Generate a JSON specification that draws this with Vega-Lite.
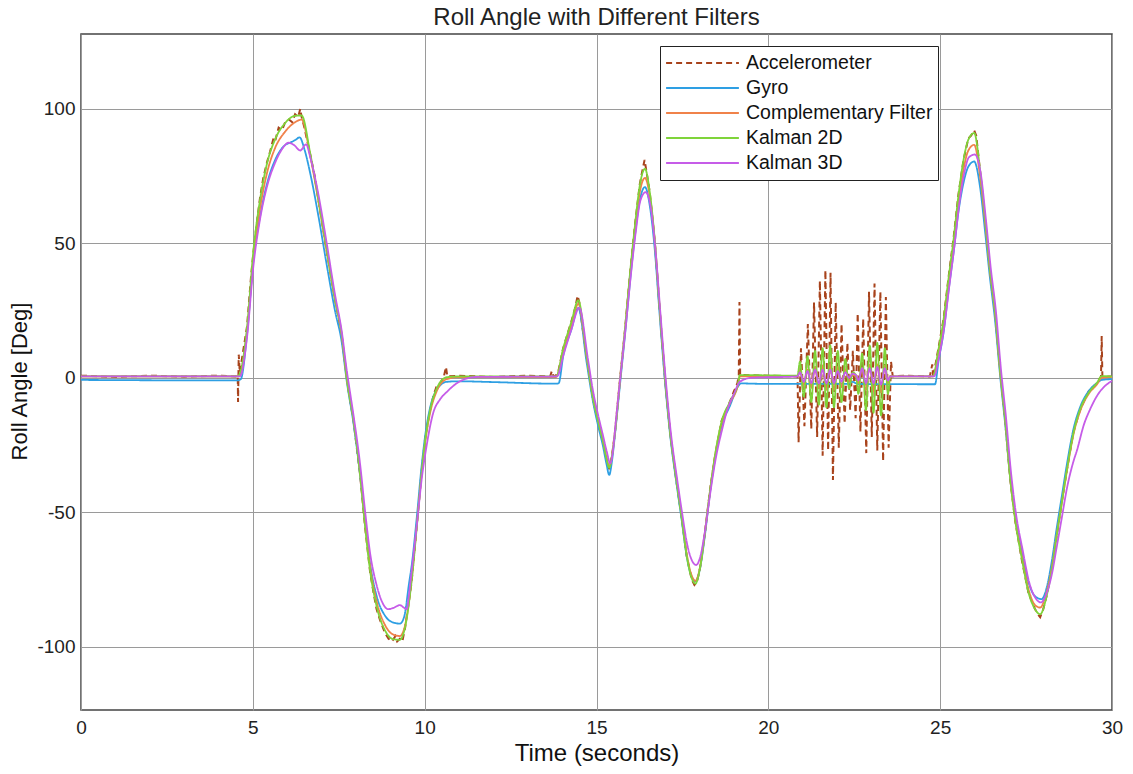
{
"$schema":"https://vega.github.io/schema/vega-lite/v6.json",
"width":1031,"height":676,
"autosize":{"type":"none"},
"padding":{"left":81,"top":34,"right":21,"bottom":64},
"background":"white",
"title":{"text":"Roll Angle with Different Filters","fontSize":24,"font":"Liberation Sans","fontWeight":"normal","color":"#222","offset":4},
"config":{"view":{"stroke":"#444","strokeWidth":1.5},"font":"Liberation Sans"},
"datasets":{
"acc":[
{"t":0,"v":0.8},{"t":1,"v":0.3},{"t":2,"v":0.8},{"t":3,"v":0.4},{"t":4,"v":0.8},{"t":4.5,"v":0.5},{"t":4.56,"v":1},{"t":4.57,"v":-9},{"t":4.59,"v":8.6},{"t":4.62,"v":2},{"t":4.83,"v":19},{"t":4.95,"v":38},{"t":5.02,"v":47},{"t":5.12,"v":58},{"t":5.21,"v":67},{"t":5.3,"v":74},{"t":5.41,"v":80},{"t":5.5,"v":84},{"t":5.6,"v":89},{"t":5.65,"v":88},{"t":5.75,"v":93},{"t":5.85,"v":92},{"t":5.94,"v":95},{"t":6.05,"v":96},{"t":6.15,"v":95},{"t":6.23,"v":98},{"t":6.32,"v":97},{"t":6.38,"v":100},{"t":6.42,"v":97},{"t":6.5,"v":93},{"t":6.67,"v":83},{"t":6.8,"v":75},{"t":6.91,"v":66},{"t":7.15,"v":47},{"t":7.39,"v":29},{"t":7.5,"v":22},{"t":7.59,"v":15},{"t":7.65,"v":9},{"t":7.73,"v":1},{"t":7.8,"v":-6},{"t":7.93,"v":-16},{"t":8.12,"v":-36},{"t":8.27,"v":-56},{"t":8.41,"v":-72},{"t":8.5,"v":-79},{"t":8.6,"v":-86},{"t":8.7,"v":-90},{"t":8.85,"v":-95},{"t":8.95,"v":-97},{"t":9.05,"v":-98},{"t":9.15,"v":-96},{"t":9.2,"v":-98},{"t":9.28,"v":-97},{"t":9.35,"v":-98},{"t":9.43,"v":-93},{"t":9.62,"v":-76},{"t":9.77,"v":-55},{"t":9.91,"v":-35},{"t":10.01,"v":-23},{"t":10.1,"v":-16},{"t":10.16,"v":-12},{"t":10.25,"v":-7},{"t":10.35,"v":-3},{"t":10.45,"v":-2},{"t":10.55,"v":0},{"t":10.62,"v":4},{"t":10.66,"v":0.5},{"t":11,"v":0.8},{"t":12,"v":0.3},{"t":13,"v":0.8},{"t":13.65,"v":0.5},{"t":13.7,"v":2.5},{"t":13.75,"v":0.5},{"t":13.83,"v":1},{"t":13.9,"v":3},{"t":14.03,"v":11},{"t":14.15,"v":16},{"t":14.27,"v":21},{"t":14.38,"v":26},{"t":14.45,"v":30.5},{"t":14.5,"v":28},{"t":14.6,"v":18},{"t":14.71,"v":8},{"t":14.9,"v":-8},{"t":15.05,"v":-17},{"t":15.19,"v":-24},{"t":15.29,"v":-30},{"t":15.37,"v":-34},{"t":15.45,"v":-29},{"t":15.53,"v":-21},{"t":15.68,"v":-1},{"t":15.83,"v":18},{"t":15.97,"v":38},{"t":16.12,"v":57},{"t":16.26,"v":72},{"t":16.35,"v":78},{"t":16.4,"v":81},{"t":16.45,"v":77},{"t":16.55,"v":69},{"t":16.7,"v":50},{"t":16.84,"v":25},{"t":16.99,"v":0},{"t":17.14,"v":-20},{"t":17.33,"v":-39},{"t":17.48,"v":-52},{"t":17.62,"v":-66},{"t":17.77,"v":-75},{"t":17.85,"v":-77},{"t":17.92,"v":-76},{"t":18.01,"v":-71},{"t":18.16,"v":-57},{"t":18.3,"v":-42},{"t":18.45,"v":-29},{"t":18.64,"v":-16},{"t":18.88,"v":-9},{"t":19.0,"v":-5},{"t":19.1,"v":-2},{"t":19.14,"v":1},{"t":19.16,"v":28.2},{"t":19.18,"v":1},{"t":19.3,"v":1},{"t":20,"v":0.8},{"t":20.85,"v":0.5},
{"t":20.88,"v":-24},{"t":20.95,"v":11},{"t":21.05,"v":-18},{"t":21.15,"v":20},{"t":21.25,"v":-19},{"t":21.33,"v":28},{"t":21.42,"v":-22},{"t":21.5,"v":36},{"t":21.58,"v":-29},{"t":21.66,"v":40},{"t":21.74,"v":-27},{"t":21.81,"v":39},{"t":21.88,"v":-38},{"t":21.96,"v":28},{"t":22.05,"v":-26},{"t":22.13,"v":20},{"t":22.22,"v":-17},{"t":22.3,"v":13},{"t":22.38,"v":-12},{"t":22.46,"v":10},{"t":22.54,"v":-15},{"t":22.6,"v":24},{"t":22.68,"v":-20},{"t":22.76,"v":22},{"t":22.85,"v":-28},{"t":22.93,"v":32},{"t":23.01,"v":-22},{"t":23.09,"v":35},{"t":23.17,"v":-27},{"t":23.26,"v":32},{"t":23.34,"v":-31},{"t":23.42,"v":30},{"t":23.5,"v":-26},{"t":23.57,"v":6},{"t":23.62,"v":0.5},
{"t":24,"v":0.8},{"t":24.7,"v":0.5},{"t":24.77,"v":5},{"t":24.8,"v":0},{"t":24.85,"v":4},{"t":24.95,"v":11},{"t":25.1,"v":22},{"t":25.24,"v":37},{"t":25.39,"v":52},{"t":25.53,"v":68},{"t":25.68,"v":81},{"t":25.82,"v":89},{"t":25.9,"v":90},{"t":25.99,"v":92},{"t":26.05,"v":90},{"t":26.16,"v":77},{"t":26.31,"v":58},{"t":26.45,"v":40},{"t":26.6,"v":24},{"t":26.75,"v":2},{"t":26.89,"v":-16},{"t":27.04,"v":-38},{"t":27.18,"v":-53},{"t":27.38,"v":-68},{"t":27.57,"v":-80},{"t":27.76,"v":-86},{"t":27.85,"v":-88},{"t":27.91,"v":-89},{"t":28.0,"v":-86},{"t":28.1,"v":-81},{"t":28.25,"v":-71},{"t":28.39,"v":-59},{"t":28.54,"v":-46},{"t":28.69,"v":-34},{"t":28.88,"v":-20},{"t":29.07,"v":-12},{"t":29.32,"v":-5},{"t":29.56,"v":-2},{"t":29.68,"v":0.5},{"t":29.7,"v":15.5},{"t":29.72,"v":0.5},{"t":30,"v":0.5}
],
"gyro":[
{"t":0,"v":-0.8},{"t":4.55,"v":-1},{"t":4.65,"v":-0.5},{"t":4.83,"v":16},{"t":5.02,"v":44},{"t":5.21,"v":60},{"t":5.41,"v":72},{"t":5.65,"v":81},{"t":5.94,"v":86.5},{"t":6.1,"v":87.5},{"t":6.25,"v":88.5},{"t":6.36,"v":89.4},{"t":6.5,"v":85},{"t":6.67,"v":76},{"t":6.91,"v":60},{"t":7.15,"v":42},{"t":7.39,"v":25},{"t":7.59,"v":13},{"t":7.73,"v":-1},{"t":7.93,"v":-17},{"t":8.12,"v":-36},{"t":8.27,"v":-54},{"t":8.41,"v":-69},{"t":8.6,"v":-81},{"t":8.85,"v":-88.5},{"t":9.09,"v":-91},{"t":9.28,"v":-91.4},{"t":9.4,"v":-89},{"t":9.55,"v":-76},{"t":9.62,"v":-70},{"t":9.77,"v":-52},{"t":9.91,"v":-33},{"t":10.01,"v":-22},{"t":10.16,"v":-11},{"t":10.35,"v":-4.5},{"t":10.64,"v":-1.5},{"t":11,"v":-1.3},{"t":12,"v":-1.6},{"t":13.83,"v":-2.2},{"t":13.9,"v":-2},{"t":14.03,"v":8},{"t":14.27,"v":18},{"t":14.47,"v":26},{"t":14.71,"v":6},{"t":14.9,"v":-9},{"t":15.05,"v":-18},{"t":15.19,"v":-25.5},{"t":15.29,"v":-32},{"t":15.37,"v":-36.1},{"t":15.45,"v":-31},{"t":15.53,"v":-22},{"t":15.68,"v":-3},{"t":15.83,"v":16},{"t":15.97,"v":35},{"t":16.12,"v":53},{"t":16.26,"v":66},{"t":16.41,"v":70.9},{"t":16.55,"v":64},{"t":16.7,"v":47},{"t":16.84,"v":23},{"t":16.99,"v":-1},{"t":17.14,"v":-21},{"t":17.33,"v":-39.5},{"t":17.48,"v":-53},{"t":17.62,"v":-66},{"t":17.77,"v":-74},{"t":17.88,"v":-75.7},{"t":18.01,"v":-71},{"t":18.16,"v":-58},{"t":18.3,"v":-43},{"t":18.45,"v":-30},{"t":18.64,"v":-18},{"t":18.88,"v":-10.5},{"t":19.13,"v":-3},{"t":19.2,"v":-2.1},{"t":20,"v":-2.3},{"t":22.3,"v":-2.3},{"t":22.45,"v":-1.5},{"t":22.6,"v":-2.3},{"t":24.85,"v":-2.4},{"t":24.95,"v":6},{"t":25.1,"v":17},{"t":25.24,"v":32},{"t":25.39,"v":46.5},{"t":25.53,"v":61.5},{"t":25.68,"v":72.5},{"t":25.82,"v":78.5},{"t":25.99,"v":80.4},{"t":26.16,"v":71},{"t":26.31,"v":54},{"t":26.45,"v":37},{"t":26.6,"v":21},{"t":26.75,"v":0},{"t":26.89,"v":-17},{"t":27.04,"v":-37},{"t":27.18,"v":-51},{"t":27.38,"v":-65},{"t":27.57,"v":-76},{"t":27.76,"v":-81.2},{"t":27.95,"v":-82.3},{"t":28.1,"v":-78},{"t":28.25,"v":-68},{"t":28.39,"v":-56},{"t":28.54,"v":-44},{"t":28.69,"v":-32},{"t":28.88,"v":-19},{"t":29.07,"v":-11},{"t":29.32,"v":-5},{"t":29.56,"v":-2},{"t":29.7,"v":-0.8},{"t":30,"v":-0.5}
],
"comp":[
{"t":0,"v":0.5},{"t":4.55,"v":0.5},{"t":4.62,"v":1},{"t":4.83,"v":17},{"t":5.02,"v":45},{"t":5.21,"v":63},{"t":5.41,"v":76},{"t":5.65,"v":85.5},{"t":5.94,"v":91.5},{"t":6.23,"v":95},{"t":6.42,"v":96},{"t":6.67,"v":82.5},{"t":6.91,"v":65.5},{"t":7.15,"v":47},{"t":7.39,"v":29},{"t":7.59,"v":15.5},{"t":7.73,"v":0},{"t":7.93,"v":-15.5},{"t":8.12,"v":-35},{"t":8.27,"v":-54},{"t":8.41,"v":-70},{"t":8.6,"v":-83},{"t":8.85,"v":-92},{"t":9.09,"v":-95.5},{"t":9.28,"v":-96},{"t":9.43,"v":-92},{"t":9.62,"v":-75},{"t":9.77,"v":-55},{"t":9.91,"v":-36},{"t":10.01,"v":-24.5},{"t":10.16,"v":-13},{"t":10.35,"v":-5},{"t":10.64,"v":-0.5},{"t":11,"v":0.3},{"t":13.83,"v":0.3},{"t":14.03,"v":10},{"t":14.27,"v":19.5},{"t":14.47,"v":27.5},{"t":14.71,"v":8},{"t":14.9,"v":-7.5},{"t":15.05,"v":-16},{"t":15.19,"v":-23.5},{"t":15.29,"v":-29.5},{"t":15.37,"v":-33},{"t":15.45,"v":-29},{"t":15.53,"v":-21},{"t":15.68,"v":-1.5},{"t":15.83,"v":17.5},{"t":15.97,"v":37},{"t":16.12,"v":55},{"t":16.26,"v":69},{"t":16.41,"v":74.3},{"t":16.55,"v":67.5},{"t":16.7,"v":50},{"t":16.84,"v":25.5},{"t":16.99,"v":1},{"t":17.14,"v":-19.5},{"t":17.33,"v":-38},{"t":17.48,"v":-51.5},{"t":17.62,"v":-65},{"t":17.77,"v":-73.5},{"t":17.88,"v":-75.5},{"t":18.01,"v":-70.5},{"t":18.16,"v":-57},{"t":18.3,"v":-42.5},{"t":18.45,"v":-29},{"t":18.64,"v":-17},{"t":18.88,"v":-9.5},{"t":19.13,"v":-2},{"t":19.17,"v":0.5},{"t":20.85,"v":0.5},
{"t":20.92,"v":2.5},{"t":21.03,"v":-2.5},{"t":21.14,"v":3},{"t":21.25,"v":-3.5},{"t":21.36,"v":4},{"t":21.47,"v":-4},{"t":21.58,"v":4.5},{"t":21.69,"v":-4.5},{"t":21.8,"v":5},{"t":21.91,"v":-4.5},{"t":22.02,"v":4},{"t":22.13,"v":-3.5},{"t":22.24,"v":3},{"t":22.35,"v":-1.5},{"t":22.45,"v":1},{"t":22.55,"v":0.5},{"t":22.62,"v":-2},{"t":22.73,"v":3.5},{"t":22.84,"v":-4.5},{"t":22.95,"v":5},{"t":23.06,"v":-5},{"t":23.17,"v":5},{"t":23.28,"v":-5.5},{"t":23.39,"v":4.5},{"t":23.48,"v":-2},{"t":23.55,"v":0.5},
{"t":24.79,"v":0.5},{"t":24.95,"v":9.5},{"t":25.1,"v":20.5},{"t":25.24,"v":35},{"t":25.39,"v":49.5},{"t":25.53,"v":65},{"t":25.68,"v":77.5},{"t":25.82,"v":84.5},{"t":25.99,"v":86.6},{"t":26.16,"v":75},{"t":26.31,"v":57.5},{"t":26.45,"v":39.5},{"t":26.6,"v":23.5},{"t":26.75,"v":1.5},{"t":26.89,"v":-15.5},{"t":27.04,"v":-37},{"t":27.18,"v":-52},{"t":27.38,"v":-66.5},{"t":27.57,"v":-78.5},{"t":27.76,"v":-84.5},{"t":27.91,"v":-85.4},{"t":28.1,"v":-79.5},{"t":28.25,"v":-70.5},{"t":28.39,"v":-58.5},{"t":28.54,"v":-46.5},{"t":28.69,"v":-34.5},{"t":28.88,"v":-21},{"t":29.07,"v":-12.5},{"t":29.32,"v":-6},{"t":29.56,"v":-2.5},{"t":29.7,"v":0},{"t":30,"v":0.3}
],
"k2":[
{"t":0,"v":0.5},{"t":4.55,"v":0.5},{"t":4.6,"v":1},{"t":4.83,"v":18.5},{"t":5.02,"v":47.7},{"t":5.21,"v":66.2},{"t":5.41,"v":79.5},{"t":5.65,"v":88.7},{"t":5.94,"v":94.7},{"t":6.23,"v":97.4},{"t":6.42,"v":97.5},{"t":6.67,"v":83.4},{"t":6.91,"v":66.2},{"t":7.15,"v":47.7},{"t":7.39,"v":29.1},{"t":7.59,"v":15.9},{"t":7.73,"v":0},{"t":7.93,"v":-15.9},{"t":8.12,"v":-35.8},{"t":8.27,"v":-55.6},{"t":8.41,"v":-71.5},{"t":8.6,"v":-84.8},{"t":8.85,"v":-94},{"t":9.09,"v":-97.2},{"t":9.28,"v":-97.4},{"t":9.43,"v":-92.7},{"t":9.62,"v":-75.5},{"t":9.77,"v":-55.6},{"t":9.91,"v":-35.8},{"t":10.01,"v":-23.8},{"t":10.16,"v":-11.9},{"t":10.35,"v":-4},{"t":10.64,"v":0.2},{"t":11,"v":0.5},{"t":13.83,"v":0.5},{"t":14.03,"v":10.9},{"t":14.27,"v":20.8},{"t":14.47,"v":28.8},{"t":14.71,"v":8.4},{"t":14.9,"v":-7.7},{"t":15.05,"v":-16.3},{"t":15.19,"v":-23.8},{"t":15.29,"v":-30},{"t":15.37,"v":-33.5},{"t":15.45,"v":-29},{"t":15.53,"v":-21.3},{"t":15.68,"v":-1.5},{"t":15.83,"v":18.3},{"t":15.97,"v":38.1},{"t":16.12,"v":56.7},{"t":16.26,"v":71.5},{"t":16.41,"v":77.7},{"t":16.55,"v":69},{"t":16.7,"v":50.5},{"t":16.84,"v":25.7},{"t":16.99,"v":1},{"t":17.14,"v":-20},{"t":17.33,"v":-38.6},{"t":17.48,"v":-52.2},{"t":17.62,"v":-65.8},{"t":17.77,"v":-74.5},{"t":17.88,"v":-76.5},{"t":18.01,"v":-70.8},{"t":18.16,"v":-57.2},{"t":18.3,"v":-42.3},{"t":18.45,"v":-28.7},{"t":18.64,"v":-16.3},{"t":18.88,"v":-8.9},{"t":19.13,"v":-1.5},{"t":19.17,"v":1},{"t":20.85,"v":0.8},
{"t":20.92,"v":6},{"t":21.03,"v":-7},{"t":21.14,"v":8},{"t":21.25,"v":-9},{"t":21.36,"v":10},{"t":21.47,"v":-10},{"t":21.58,"v":11},{"t":21.69,"v":-11},{"t":21.8,"v":12},{"t":21.91,"v":-11},{"t":22.02,"v":10},{"t":22.13,"v":-9},{"t":22.24,"v":7},{"t":22.35,"v":-4},{"t":22.45,"v":2},{"t":22.55,"v":1},{"t":22.62,"v":-6},{"t":22.73,"v":9},{"t":22.84,"v":-12},{"t":22.95,"v":12},{"t":23.06,"v":-13},{"t":23.17,"v":13},{"t":23.28,"v":-14},{"t":23.39,"v":11},{"t":23.48,"v":-6},{"t":23.55,"v":0.5},
{"t":24.79,"v":0.5},{"t":24.95,"v":10.5},{"t":25.1,"v":21.7},{"t":25.24,"v":36.5},{"t":25.39,"v":51.4},{"t":25.53,"v":67.5},{"t":25.68,"v":81},{"t":25.82,"v":88.5},{"t":25.99,"v":91},{"t":26.16,"v":77.4},{"t":26.31,"v":58.8},{"t":26.45,"v":40.2},{"t":26.6,"v":24.1},{"t":26.75,"v":1.9},{"t":26.89,"v":-15.5},{"t":27.04,"v":-37.7},{"t":27.18,"v":-52.6},{"t":27.38,"v":-67.5},{"t":27.57,"v":-79.8},{"t":27.76,"v":-86},{"t":27.91,"v":-87.9},{"t":28.1,"v":-81},{"t":28.25,"v":-71.2},{"t":28.39,"v":-58.8},{"t":28.54,"v":-46.4},{"t":28.69,"v":-34},{"t":28.88,"v":-20.4},{"t":29.07,"v":-11.8},{"t":29.32,"v":-5.6},{"t":29.56,"v":-1.9},{"t":29.7,"v":0.6},{"t":30,"v":0.5}
],
"k3":[
{"t":0,"v":0.5},{"t":4.55,"v":0.5},{"t":4.62,"v":0.5},{"t":4.83,"v":15},{"t":5.02,"v":42},{"t":5.21,"v":59},{"t":5.41,"v":71},{"t":5.65,"v":80},{"t":5.85,"v":85},{"t":6.04,"v":87.4},{"t":6.2,"v":86.5},{"t":6.38,"v":84.5},{"t":6.55,"v":86.8},{"t":6.67,"v":82},{"t":6.91,"v":68},{"t":7.15,"v":50},{"t":7.39,"v":31},{"t":7.59,"v":17},{"t":7.73,"v":3},{"t":7.8,"v":-3},{"t":7.93,"v":-14},{"t":8.12,"v":-32},{"t":8.27,"v":-50},{"t":8.41,"v":-65},{"t":8.6,"v":-77},{"t":8.75,"v":-83},{"t":8.94,"v":-86},{"t":9.1,"v":-85.5},{"t":9.28,"v":-84.5},{"t":9.4,"v":-85.5},{"t":9.48,"v":-86},{"t":9.53,"v":-82},{"t":9.62,"v":-72},{"t":9.77,"v":-55},{"t":9.91,"v":-38},{"t":10.06,"v":-25},{"t":10.25,"v":-13},{"t":10.45,"v":-8},{"t":10.64,"v":-5.3},{"t":11.03,"v":-1.3},{"t":11.5,"v":0.3},{"t":13.85,"v":0.5},{"t":14.05,"v":9},{"t":14.27,"v":18},{"t":14.5,"v":26},{"t":14.75,"v":7},{"t":14.9,"v":-5},{"t":15.05,"v":-14},{"t":15.19,"v":-21.5},{"t":15.3,"v":-27.5},{"t":15.4,"v":-31.8},{"t":15.48,"v":-27},{"t":15.55,"v":-18},{"t":15.7,"v":1},{"t":15.85,"v":19},{"t":15.99,"v":37},{"t":16.14,"v":54},{"t":16.28,"v":66},{"t":16.43,"v":69},{"t":16.57,"v":64},{"t":16.72,"v":47},{"t":16.86,"v":24},{"t":17.01,"v":0},{"t":17.16,"v":-20},{"t":17.35,"v":-38},{"t":17.5,"v":-51},{"t":17.64,"v":-62},{"t":17.78,"v":-68},{"t":17.9,"v":-69.6},{"t":18.03,"v":-66},{"t":18.18,"v":-55},{"t":18.32,"v":-42},{"t":18.47,"v":-30},{"t":18.66,"v":-19},{"t":18.79,"v":-12.6},{"t":19.0,"v":-6},{"t":19.17,"v":-1.5},{"t":19.5,"v":0},{"t":20.85,"v":0.5},
{"t":20.92,"v":2},{"t":21.03,"v":-1.5},{"t":21.14,"v":2.5},{"t":21.25,"v":-2},{"t":21.36,"v":3},{"t":21.47,"v":-2},{"t":21.58,"v":3},{"t":21.69,"v":-2},{"t":21.8,"v":3},{"t":21.91,"v":-2},{"t":22.02,"v":2.5},{"t":22.13,"v":-1.5},{"t":22.24,"v":2},{"t":22.35,"v":0},{"t":22.45,"v":1.5},{"t":22.55,"v":1},{"t":22.62,"v":-1},{"t":22.73,"v":3.5},{"t":22.84,"v":-2},{"t":22.95,"v":3.5},{"t":23.06,"v":-2},{"t":23.17,"v":4},{"t":23.28,"v":-2.5},{"t":23.39,"v":3.5},{"t":23.48,"v":-1},{"t":23.55,"v":0.5},
{"t":24.82,"v":0.5},{"t":24.97,"v":8},{"t":25.12,"v":19},{"t":25.26,"v":33.5},{"t":25.41,"v":48.5},{"t":25.55,"v":64},{"t":25.7,"v":76},{"t":25.84,"v":82},{"t":26.01,"v":83},{"t":26.18,"v":76},{"t":26.33,"v":59},{"t":26.47,"v":41},{"t":26.62,"v":25},{"t":26.77,"v":3},{"t":26.91,"v":-14},{"t":27.06,"v":-35},{"t":27.2,"v":-50},{"t":27.4,"v":-64},{"t":27.59,"v":-76},{"t":27.78,"v":-82},{"t":27.93,"v":-83.5},{"t":28.1,"v":-80},{"t":28.25,"v":-73},{"t":28.39,"v":-63},{"t":28.54,"v":-52},{"t":28.69,"v":-41},{"t":28.88,"v":-31},{"t":28.98,"v":-27},{"t":29.18,"v":-17.5},{"t":29.36,"v":-11.8},{"t":29.6,"v":-6},{"t":29.8,"v":-3},{"t":30,"v":-1.2}
]
},
"encoding":{
"x":{"field":"t","type":"quantitative","scale":{"domain":[0,30],"nice":false,"zero":false},"axis":{"values":[0,5,10,15,20,25,30],"title":"Time (seconds)","grid":true,"gridColor":"#9a9a9a","gridOpacity":1,"domain":false,"ticks":false,"labelFlush":false,"labelFontSize":19,"labelColor":"#222","labelPadding":8,"titleFontSize":24,"titleFontWeight":"normal","titleColor":"#111","titlePadding":4}},
"y":{"field":"v","type":"quantitative","scale":{"domain":[-123.5,127.8],"nice":false,"zero":false},"axis":{"values":[-100,-50,0,50,100],"labelExpr":"datum.value < 0 ? '-' + abs(datum.value) : '' + datum.value","title":"Roll Angle [Deg]","grid":true,"gridColor":"#9a9a9a","gridOpacity":1,"domain":false,"ticks":false,"labelFlush":false,"labelFontSize":19,"labelColor":"#222","labelPadding":6,"titleFontSize":22,"titleFontWeight":"normal","titleColor":"#111","titleX":-50,"titleY":347}},
"color":{"field":"s","type":"nominal","scale":{"domain":["Accelerometer","Gyro","Complementary Filter","Kalman 2D","Kalman 3D"],"range":["#a8431c","#2e9fe3","#f0824a","#7fd43a","#c65ce8"]},"legend":{"title":null,"orient":"none","legendX":579,"legendY":12,"symbolType":"stroke","symbolSize":5300,"symbolStrokeWidth":1.8,"labelFontSize":19.5,"labelColor":"#111","labelOffset":6,"padding":5,"rowPadding":1,"clipHeight":24,"strokeColor":"#222","fillColor":"white","labelLimit":300}},
"strokeDash":{"field":"s","type":"nominal","scale":{"domain":["Accelerometer","Gyro","Complementary Filter","Kalman 2D","Kalman 3D"],"range":[[6,4],[1,0],[1,0],[1,0],[1,0]]},"legend":{"title":null,"orient":"none","legendX":579,"legendY":12,"symbolType":"stroke","symbolSize":5300,"symbolStrokeWidth":1.8,"labelFontSize":19.5,"labelColor":"#111","labelOffset":6,"padding":5,"rowPadding":1,"clipHeight":24,"strokeColor":"#222","fillColor":"white","labelLimit":300}}
},
"layer":[
{"data":{"name":"acc"},"transform":[{"calculate":"'Accelerometer'","as":"s"}],"mark":{"type":"line","strokeWidth":2}},
{"data":{"name":"gyro"},"transform":[{"calculate":"'Gyro'","as":"s"}],"mark":{"type":"line","strokeWidth":1.8,"interpolate":"monotone"}},
{"data":{"name":"comp"},"transform":[{"calculate":"'Complementary Filter'","as":"s"}],"mark":{"type":"line","strokeWidth":1.8,"interpolate":"monotone"}},
{"data":{"name":"k2"},"transform":[{"calculate":"'Kalman 2D'","as":"s"}],"mark":{"type":"line","strokeWidth":1.8,"interpolate":"monotone"}},
{"data":{"name":"k3"},"transform":[{"calculate":"'Kalman 3D'","as":"s"}],"mark":{"type":"line","strokeWidth":1.8,"interpolate":"monotone"}}
]
}
